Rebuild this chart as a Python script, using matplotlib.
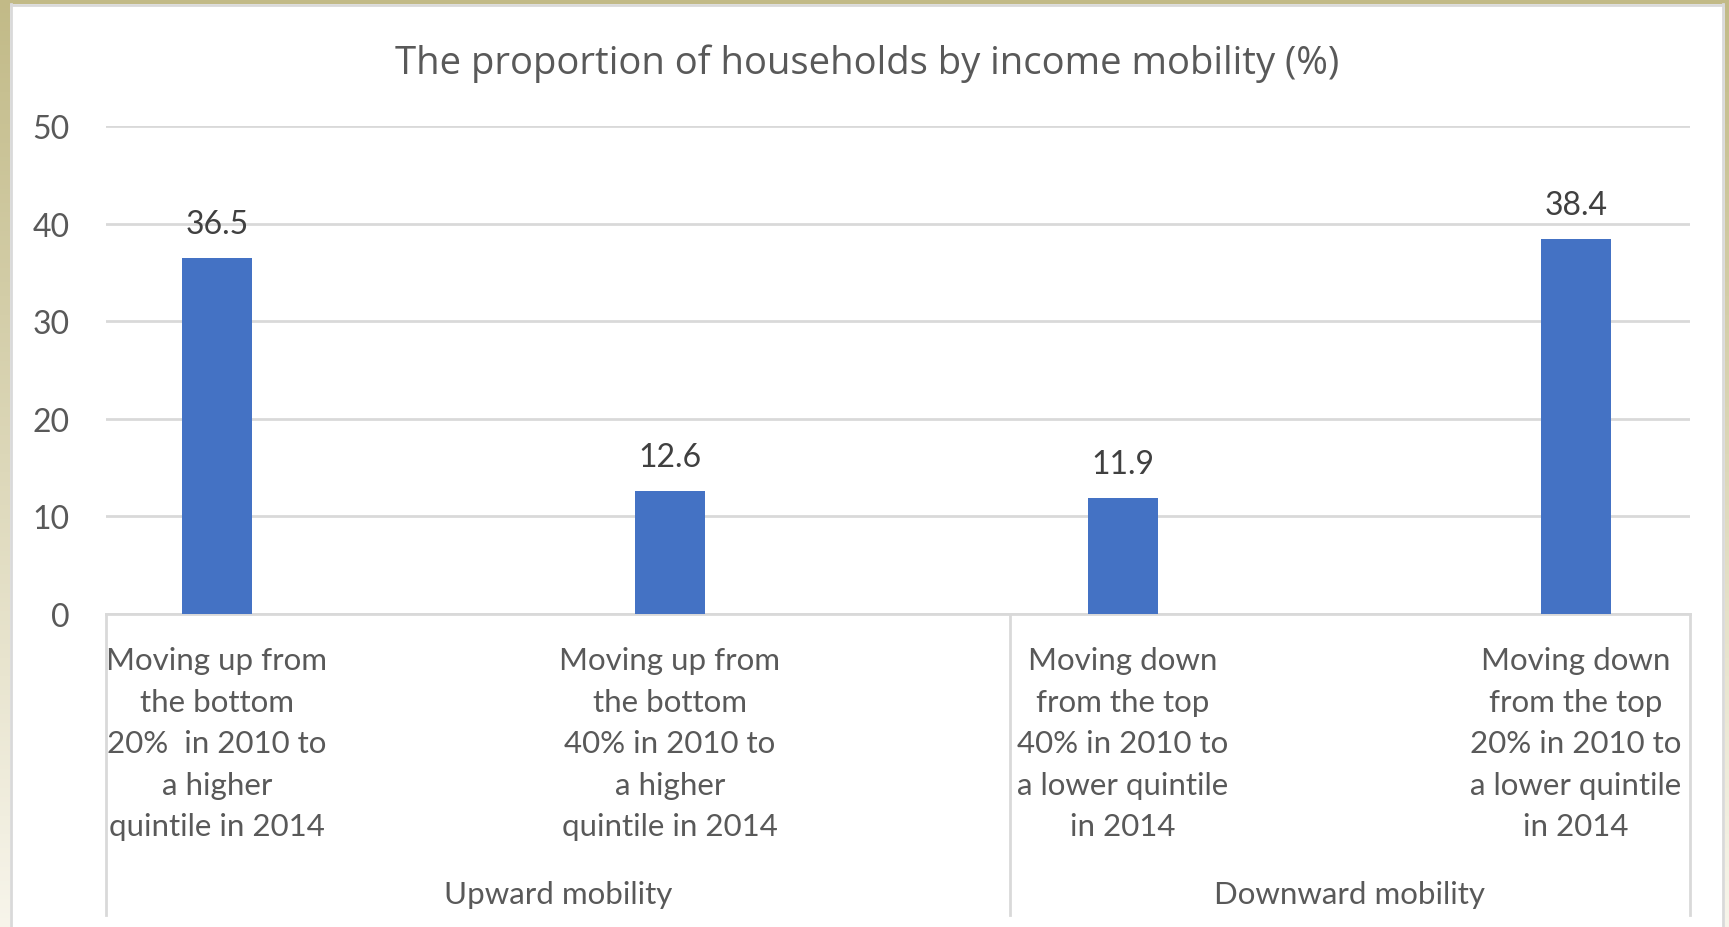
import numpy as np
import matplotlib.pyplot as plt
from matplotlib import transforms

# Datos: proporción de hogares por movilidad de ingreso (%)
categorias = [
    "Moving up from\nthe bottom\n20%  in 2010 to\na higher\nquintile in 2014",
    "Moving up from\nthe bottom\n40% in 2010 to\na higher\nquintile in 2014",
    "Moving down\nfrom the top\n40% in 2010 to\na lower quintile\nin 2014",
    "Moving down\nfrom the top\n20% in 2010 to\na lower quintile\nin 2014",
]
valores = [36.5, 12.6, 11.9, 38.4]
grupos = ["Upward mobility", "Downward mobility"]
yticks = [0, 10, 20, 30, 40, 50]

W, H = 1729, 928
FUENTE = "Lato"
GRIS_TXT = "#595959"
GRIS_LIN = "#D9D9D9"
AZUL = "#4472C4"

fig = plt.figure(figsize=(W / 100, H / 100), dpi=100)
fig.patch.set_facecolor("white")

# Marco exterior: banda oliva arriba y degradado a los lados
fondo = fig.add_axes([0, 0, 1, 1], zorder=-5)
fondo.set_xlim(0, W)
fondo.set_ylim(H, 0)
fondo.axis("off")
top_col = np.array([0.76, 0.73, 0.53])
bot_col = np.array([0.97, 0.96, 0.92])
t = np.linspace(0, 1, 200)[:, None, None]
grad = top_col * (1 - t) + bot_col * t
fondo.imshow(grad, extent=[0, 10, H, 0], aspect="auto")
fondo.imshow(grad, extent=[1725, W, H, 0], aspect="auto")
fondo.fill_between([0, W], 0, 5, color=top_col, lw=0)
fondo.plot([11, 11], [5, H], color=GRIS_LIN, lw=2)
fondo.plot([1723, 1723], [5, H], color=GRIS_LIN, lw=2)
fondo.plot([11, 1723], [6, 6], color=GRIS_LIN, lw=2)

# Área del gráfico
x0, x1, y_cero, y_top = 106, 1690, 615, 127
ax = fig.add_axes([x0 / W, (H - y_cero) / H, (x1 - x0) / W, (y_cero - y_top) / H])
ax.set_facecolor("none")

pos = np.arange(len(valores))
barras = ax.bar(pos, valores, width=0.155, color=AZUL, zorder=3)
ax.set_ylim(0, 50)
ax.set_xlim(-0.245, 3.252)

ax.set_yticks(yticks)
ax.yaxis.grid(True, color=GRIS_LIN, lw=2, zorder=0)
ax.tick_params(axis="y", length=0, pad=26, labelsize=23, labelcolor=GRIS_TXT)
for lab in ax.get_yticklabels():
    lab.set_fontfamily(FUENTE)

ax.set_xticks(pos)
ax.set_xticklabels(categorias, fontsize=22.5, color=GRIS_TXT, family=FUENTE,
                   linespacing=1.59, va="top")
ax.tick_params(axis="x", length=0, pad=23)

for s in ["left", "right", "top"]:
    ax.spines[s].set_visible(False)
ax.spines["bottom"].set_color(GRIS_LIN)
ax.spines["bottom"].set_linewidth(2)

# Etiquetas de valor sobre cada barra
for b, v in zip(barras, valores):
    ax.annotate(f"{v}", (b.get_x() + b.get_width() / 2, v), xytext=(0, 19),
                textcoords="offset pixels", ha="center", va="bottom",
                fontsize=23, color="#404040", family=FUENTE)

# Ejes de categorías agrupadas: separadores y nombres de grupo
tr = transforms.blended_transform_factory(ax.transData, ax.transAxes)
limites = [-0.245, 1.75, 3.252]
for xv in limites:
    ax.plot([xv, xv], [0, -0.617], transform=tr, color=GRIS_LIN, lw=2,
            clip_on=False, zorder=1)
for i, g in enumerate(grupos):
    ax.text((limites[i] + limites[i + 1]) / 2, -0.574, g, transform=tr,
            ha="center", va="center", fontsize=22.5, color=GRIS_TXT, family=FUENTE)

fig.text(867 / W, 1 - 63.5 / H, "The proportion of households by income mobility (%)",
         ha="center", va="center", fontsize=27.5, color=GRIS_TXT, family="Open Sans")

fig.savefig("out.png", dpi=100)
